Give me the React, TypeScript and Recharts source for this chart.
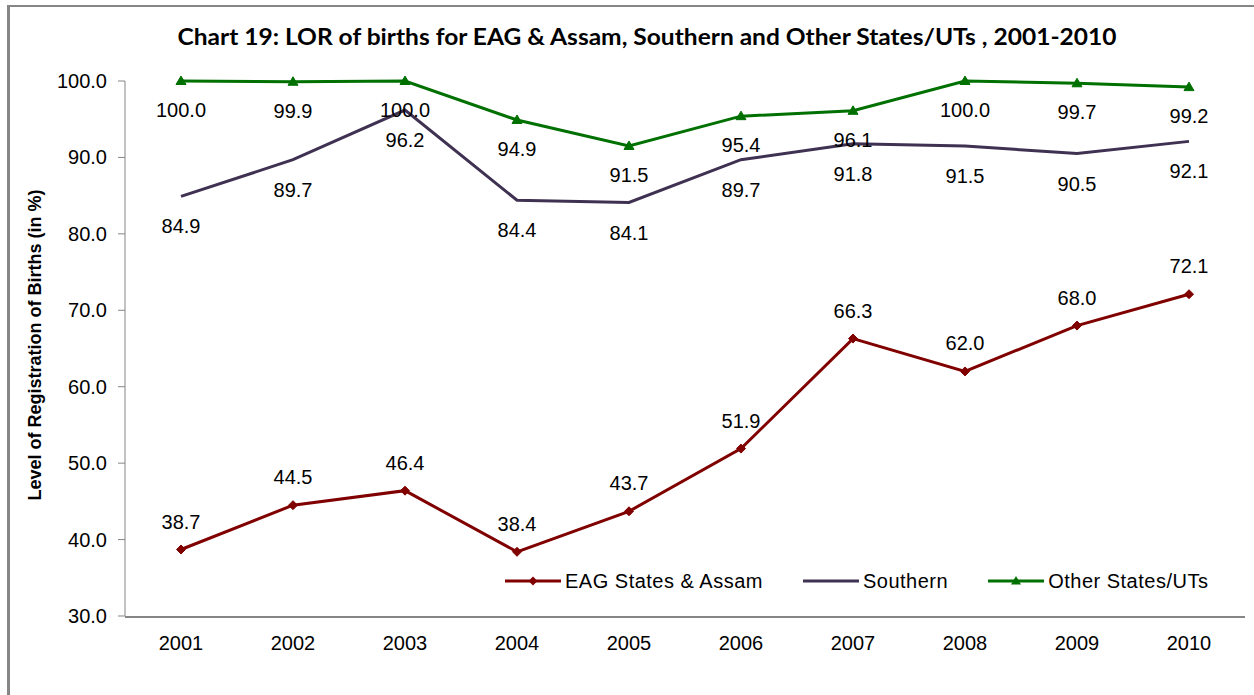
import React from 'react';
import { LineChart, Line, XAxis, YAxis, LabelList } from 'recharts';

const years = ['2001', '2002', '2003', '2004', '2005', '2006', '2007', '2008', '2009', '2010'];
const eagValues = [38.7, 44.5, 46.4, 38.4, 43.7, 51.9, 66.3, 62.0, 68.0, 72.1];
const southernValues = [84.9, 89.7, 96.2, 84.4, 84.1, 89.7, 91.8, 91.5, 90.5, 92.1];
const otherValues = [100.0, 99.9, 100.0, 94.9, 91.5, 95.4, 96.1, 100.0, 99.7, 99.2];
const yTicks = [30, 40, 50, 60, 70, 80, 90, 100];
const boundaryTicks = [0, 1, 2, 3, 4, 5, 6, 7, 8, 9, 10];
const seriesNames = ['EAG States & Assam', 'Southern', 'Other States/UTs'];
const titleText = 'Chart 19: LOR of births for EAG & Assam, Southern and Other States/UTs , 2001-2010';
const yAxisTitle = 'Level of Registration of Births (in %)';

const data = years.map((y, i) => ({
  year: y,
  eag: eagValues[i],
  southern: southernValues[i],
  other: otherValues[i],
}));

const C_EAG = '#800000';
const C_SOUTH = '#3f3151';
const C_OTHER = '#007000';
const AXIS = '#868686';
const FONT = '"Liberation Sans", Arial, sans-serif';

const Diamond = (props: any) => {
  const { cx, cy, index } = props;
  if (cx == null || cy == null) return <g key={`d${index}`} />;
  return (
    <path
      key={`d${index}`}
      d={`M${cx},${cy - 4.5} L${cx + 4.5},${cy} L${cx},${cy + 4.5} L${cx - 4.5},${cy} Z`}
      fill={C_EAG}
      stroke={C_EAG}
    />
  );
};

const Triangle = (props: any) => {
  const { cx, cy, index } = props;
  if (cx == null || cy == null) return <g key={`t${index}`} />;
  return (
    <path
      key={`t${index}`}
      d={`M${cx},${cy - 5} L${cx + 5},${cy + 3.5} L${cx - 5},${cy + 3.5} Z`}
      fill={C_OTHER}
      stroke={C_OTHER}
    />
  );
};

const makeLabel = (dy: number) => (props: any) => {
  const { x, y, value, index } = props;
  if (x == null || y == null) return null;
  return (
    <text
      key={`l${index}`}
      x={x}
      y={y + dy}
      textAnchor="middle"
      dominantBaseline="central"
      fontSize={20}
      fontFamily={FONT}
      fill="#000"
    >
      {Number(value).toFixed(1)}
    </text>
  );
};

const YTick = (props: any) => {
  const { x, y, payload } = props;
  return (
    <text x={x} y={y} textAnchor="end" dominantBaseline="central" fontSize={20} fontFamily={FONT} fill="#000">
      {Number(payload.value).toFixed(1)}
    </text>
  );
};

const XTick = (props: any) => {
  const { x, y, payload } = props;
  return (
    <text x={x} y={y} dy="0.71em" textAnchor="middle" fontSize={20} fontFamily={FONT} fill="#000">
      {payload.value}
    </text>
  );
};

const LegendSample = ({ color, marker }: { color: string; marker: 'diamond' | 'none' | 'triangle' }) => (
  <svg width={56} height={14} style={{ display: 'block' }}>
    <line x1={0} y1={7} x2={56} y2={7} stroke={color} strokeWidth={3} />
    {marker === 'diamond' && <path d="M28,2.5 L32.5,7 L28,11.5 L23.5,7 Z" fill={color} />}
    {marker === 'triangle' && <path d="M28,2 L33,10.5 L23,10.5 Z" fill={color} />}
  </svg>
);

export default function App() {
  const legendItems = [
    { name: seriesNames[0], color: C_EAG, marker: 'diamond' as const },
    { name: seriesNames[1], color: C_SOUTH, marker: 'none' as const },
    { name: seriesNames[2], color: C_OTHER, marker: 'triangle' as const },
  ];
  return (
    <div style={{ position: 'fixed', left: 0, top: 0, width: 1254, height: 695, background: '#fff', overflow: 'hidden' }}>
      <div
        style={{
          position: 'absolute',
          left: 7,
          top: 5,
          width: 1400,
          height: 900,
          borderLeft: `3px solid ${AXIS}`,
          borderTop: `2px solid ${AXIS}`,
          boxSizing: 'border-box',
        }}
      />
      <div style={{ position: 'absolute', left: 0, top: 0 }}>
        <LineChart width={1254} height={695} data={data} margin={{ top: 81, right: 9, bottom: 77, left: 65 }}>
          <XAxis
            dataKey="year"
            scale="band"
            height={1}
            axisLine={false}
            tickLine={false}
            tickSize={6}
            tickMargin={14}
            tick={XTick}
            interval={0}
          />
          <XAxis
            xAxisId="edges"
            type="number"
            domain={[0, 10]}
            ticks={boundaryTicks}
            interval={0}
            allowDataOverflow
            height={1}
            tick={false}
            tickSize={6}
            axisLine={{ stroke: AXIS, strokeWidth: 2 }}
            tickLine={{ stroke: AXIS, strokeWidth: 1 }}
          />
          <YAxis
            width={60}
            domain={[30, 100]}
            ticks={yTicks}
            interval={0}
            tickSize={7}
            tickMargin={11}
            axisLine={{ stroke: AXIS, strokeWidth: 1 }}
            tickLine={{ stroke: AXIS, strokeWidth: 1 }}
            tick={YTick}
          />
          <Line
            dataKey="eag"
            name={seriesNames[0]}
            type="linear"
            stroke={C_EAG}
            strokeWidth={3}
            dot={Diamond}
            activeDot={false}
            isAnimationActive={false}
          >
            <LabelList dataKey="eag" content={makeLabel(-28)} />
          </Line>
          <Line
            dataKey="southern"
            name={seriesNames[1]}
            type="linear"
            stroke={C_SOUTH}
            strokeWidth={3}
            dot={false}
            activeDot={false}
            isAnimationActive={false}
          >
            <LabelList dataKey="southern" content={makeLabel(30)} />
          </Line>
          <Line
            dataKey="other"
            name={seriesNames[2]}
            type="linear"
            stroke={C_OTHER}
            strokeWidth={3}
            dot={Triangle}
            activeDot={false}
            isAnimationActive={false}
          >
            <LabelList dataKey="other" content={makeLabel(29)} />
          </Line>
        </LineChart>
      </div>
      <svg width={1254} height={695} style={{ position: 'absolute', left: 0, top: 0, pointerEvents: 'none' }}>
        <text
          x={647}
          y={45}
          textAnchor="middle"
          fontSize={22}
          fontWeight="bold"
          fontFamily="Lato, 'Open Sans', sans-serif"
          fill="#000"
          textLength={939}
          lengthAdjust="spacingAndGlyphs"
        >
          {titleText}
        </text>
        <text
          x={0}
          y={0}
          transform="translate(41,345) rotate(-90)"
          textAnchor="middle"
          fontSize={18}
          fontWeight="bold"
          fontFamily={FONT}
          fill="#000"
        >
          {yAxisTitle}
        </text>
      </svg>
      <div
        style={{
          position: 'absolute',
          left: 505,
          top: 568,
          display: 'flex',
          alignItems: 'center',
          fontFamily: FONT,
          fontSize: 20,
          letterSpacing: '0.5px',
          color: '#000',
          whiteSpace: 'nowrap',
        }}
      >
        {legendItems.map((it, i) => (
          <div key={it.name} style={{ display: 'flex', alignItems: 'center', marginRight: i < 2 ? 40 : 0 }}>
            <LegendSample color={it.color} marker={it.marker} />
            <span style={{ marginLeft: 4, lineHeight: '26px' }}>{it.name}</span>
          </div>
        ))}
      </div>
    </div>
  );
}
